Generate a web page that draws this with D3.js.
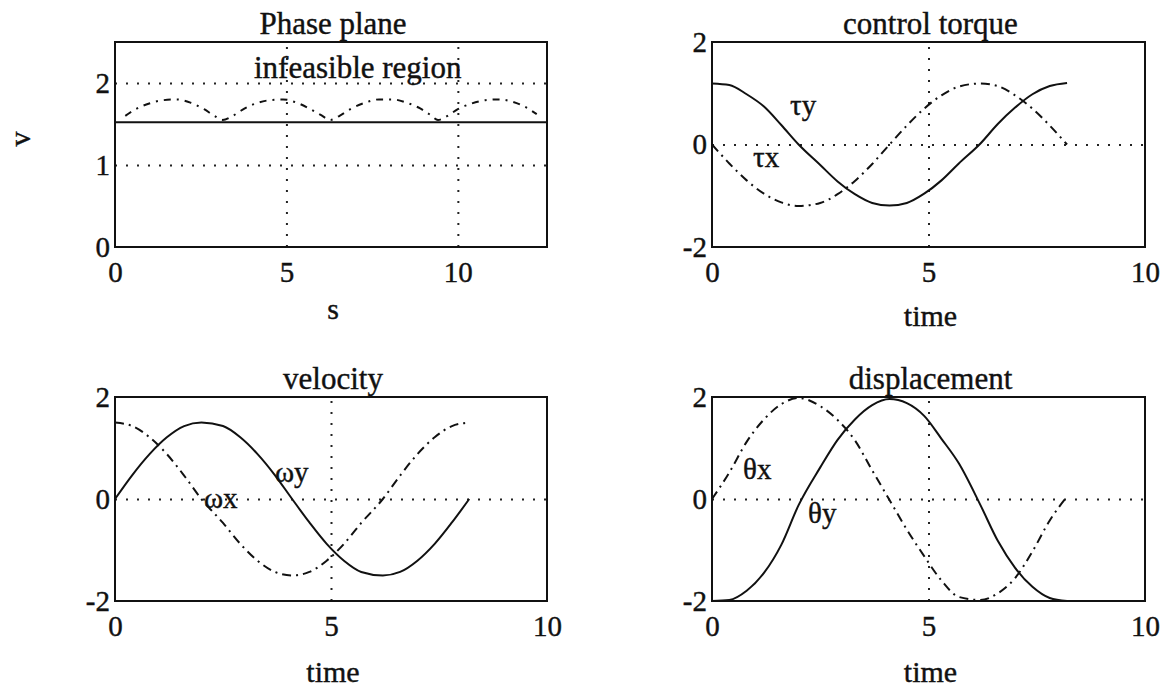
<!DOCTYPE html>
<html>
<head>
<meta charset="utf-8">
<script src="https://cdn.jsdelivr.net/npm/d3@7"></script>
<style>
body { margin: 0; background: #fff; }
svg text { font-family: "Liberation Serif", "Times New Roman", serif; fill: #111; stroke: #111; stroke-width: 0.4px; }
</style>
</head>
<body>
<script>
// phase plane: dashed limit curve and the solid trajectory level
var phaseS = [0.3, 0.6, 1.0, 1.4, 1.8, 2.2, 2.6, 2.9, 3.14, 3.4, 3.7, 4.1, 4.5, 4.9, 5.3, 5.7, 6.0, 6.28, 6.55, 6.9, 7.3, 7.7, 8.1, 8.5, 8.9, 9.2, 9.42, 9.7, 10.0, 10.4, 10.8, 11.2, 11.6, 12.0, 12.3];
var phaseV = [1.60, 1.68, 1.75, 1.79, 1.80, 1.76, 1.68, 1.60, 1.55, 1.59, 1.67, 1.75, 1.79, 1.80, 1.76, 1.68, 1.61, 1.55, 1.60, 1.69, 1.76, 1.80, 1.80, 1.76, 1.69, 1.61, 1.55, 1.60, 1.68, 1.75, 1.79, 1.80, 1.77, 1.70, 1.62];
var phaseLevel = [1.52, 1.52];
var phaseLevelS = [0, 12.6];

// time histories
var time   = [0, 0.4, 0.8, 1.2, 1.6, 2.0, 2.5, 2.9, 3.3, 3.7, 4.1, 4.5, 4.9, 5.3, 5.7, 6.2, 6.6, 7.0, 7.4, 7.8, 8.2];
var tauY   = [1.19, 1.16, 0.98, 0.74, 0.38, 0.0, -0.40, -0.72, -0.97, -1.14, -1.19, -1.14, -0.96, -0.70, -0.37, 0.02, 0.40, 0.72, 0.98, 1.14, 1.20];
var tauX   = [0.0, -0.37, -0.70, -0.96, -1.13, -1.20, -1.14, -0.97, -0.71, -0.38, 0.0, 0.37, 0.70, 0.96, 1.13, 1.19, 1.14, 0.96, 0.70, 0.37, 0.0];
var omegaY = [0.0, 0.47, 0.88, 1.21, 1.43, 1.50, 1.43, 1.21, 0.88, 0.47, 0.0, -0.46, -0.88, -1.21, -1.43, -1.50, -1.43, -1.21, -0.88, -0.46, 0.0];
var omegaX = [1.50, 1.43, 1.21, 0.88, 0.46, 0.0, -0.47, -0.88, -1.21, -1.43, -1.50, -1.43, -1.21, -0.88, -0.47, 0.0, 0.46, 0.88, 1.21, 1.43, 1.50];
var thetaY = [-2.0, -1.98, -1.80, -1.45, -0.90, -0.12, 0.62, 1.16, 1.56, 1.84, 1.96, 1.88, 1.63, 1.18, 0.70, -0.12, -0.82, -1.35, -1.72, -1.94, -2.0];
var thetaX = [0.0, 0.52, 1.12, 1.56, 1.86, 1.98, 1.82, 1.55, 1.15, 0.56, -0.02, -0.60, -1.12, -1.60, -1.92, -1.98, -1.85, -1.55, -1.03, -0.42, 0.05];

var timeTicks = [0, 5, 10], timeGrid = [5];
var valueTicks = [-2, 0, 2], valueGrid = [0];
var phaseXTicks = [0, 5, 10], phaseXGrid = [5, 10];
var phaseYTicks = [0, 1, 2], phaseYGrid = [1, 2];

var W = 1169, H = 690;
var svg = d3.select('body').append('svg').attr('width', W).attr('height', H);
svg.append('rect').attr('width', W).attr('height', H).attr('fill', '#fff');

var cols = [[115, 547], [712, 1145]],
	rows = [[42, 247], [397, 601]];

function zip(xs, ys) { return xs.map(function(v, i) { return [v, ys[i]]; }); }
// plain integer labels with an ascii hyphen, like the original
function plain(d) { return String(d); }

function panel(p) {
	var left = cols[p.col][0], right = cols[p.col][1],
		top = rows[p.row][0], bottom = rows[p.row][1];
	var x = d3.scaleLinear().domain(p.xDomain).range([left, right]),
		y = d3.scaleLinear().domain(p.yDomain).range([bottom, top]);
	var g = svg.append('g');

	// dotted grid
	var gx = g.append('g').attr('transform', 'translate(0,' + bottom + ')')
		.call(d3.axisBottom(x).tickValues(p.xGrid).tickSize(-(bottom - top)).tickFormat(''));
	var gy = g.append('g').attr('transform', 'translate(' + left + ',0)')
		.call(d3.axisLeft(y).tickValues(p.yGrid).tickSize(-(right - left)).tickFormat(''));
	[gx, gy].forEach(function(a) {
		a.select('.domain').remove();
		a.selectAll('line').attr('stroke', '#222').attr('stroke-width', 2).attr('stroke-dasharray', '2,9');
	});

	// tick labels
	var ax = g.append('g').attr('transform', 'translate(0,' + bottom + ')')
		.call(d3.axisBottom(x).tickValues(p.xTicks).tickFormat(plain).tickSize(0).tickPadding(14));
	var ay = g.append('g').attr('transform', 'translate(' + left + ',0)')
		.call(d3.axisLeft(y).tickValues(p.yTicks).tickFormat(plain).tickSize(0).tickPadding(5));
	[ax, ay].forEach(function(a) {
		a.attr('font-family', null).attr('font-size', null);
		a.select('.domain').remove();
		a.selectAll('text').style('font-size', '29px');
	});

	// curves
	p.lines.forEach(function(l) {
		g.append('path').datum(zip(l.x, l.y))
			.attr('fill', 'none').attr('stroke', '#111').attr('stroke-width', 2)
			.attr('stroke-dasharray', l.dash || null)
			.attr('d', d3.line().x(function(d) { return x(d[0]); }).y(function(d) { return y(d[1]); }).curve(d3.curveMonotoneX));
	});

	// box
	g.append('rect').attr('x', left).attr('y', top).attr('width', right - left).attr('height', bottom - top)
		.attr('fill', 'none').attr('stroke', '#111').attr('stroke-width', 2);

	// labels
	g.append('text').attr('x', (left + right) / 2 + 2).attr('y', top - 8).attr('text-anchor', 'middle')
		.style('font-size', '31px').text(p.title);
	g.append('text').attr('x', (left + right) / 2 + 2).attr('y', bottom + p.xLabelGap).attr('text-anchor', 'middle')
		.style('font-size', '30px').text(p.xLabel);
	(p.notes || []).forEach(function(n) {
		g.append('text').attr('x', n.x).attr('y', n.y).style('font-size', (n.size || 29) + 'px').text(n.text);
	});
	return g;
}

var dashDot = '9,5,2,5';

panel({
	col: 0, row: 0, xDomain: [0, 12.6], yDomain: [0, 2.5],
	xTicks: phaseXTicks, yTicks: phaseYTicks, xGrid: phaseXGrid, yGrid: phaseYGrid,
	title: 'Phase plane', xLabel: 's', xLabelGap: 72,
	lines: [
		{x: phaseS, y: phaseV, dash: '7,6,2,6'},
		{x: phaseLevelS, y: phaseLevel}
	],
	notes: [{x: 254, y: 78, text: 'infeasible region', size: 31}]
});

// y label, rotated as in the original
svg.append('text').attr('transform', 'translate(30,139) rotate(-90)').attr('text-anchor', 'middle')
	.style('font-size', '30px').text('v');

panel({
	col: 1, row: 0, xDomain: [0, 10], yDomain: [-2, 2],
	xTicks: timeTicks, yTicks: valueTicks, xGrid: timeGrid, yGrid: valueGrid,
	title: 'control torque', xLabel: 'time', xLabelGap: 79,
	lines: [
		{x: time, y: tauY},
		{x: time, y: tauX, dash: dashDot}
	],
	notes: [{x: 790, y: 115, text: 'τy'}, {x: 753, y: 167, text: 'τx'}]
});

panel({
	col: 0, row: 1, xDomain: [0, 10], yDomain: [-2, 2],
	xTicks: timeTicks, yTicks: valueTicks, xGrid: timeGrid, yGrid: valueGrid,
	title: 'velocity', xLabel: 'time', xLabelGap: 81,
	lines: [
		{x: time, y: omegaY},
		{x: time, y: omegaX, dash: dashDot}
	],
	notes: [{x: 275, y: 482, text: 'ωy'}, {x: 204, y: 508, text: 'ωx'}]
});

panel({
	col: 1, row: 1, xDomain: [0, 10], yDomain: [-2, 2],
	xTicks: timeTicks, yTicks: valueTicks, xGrid: timeGrid, yGrid: valueGrid,
	title: 'displacement', xLabel: 'time', xLabelGap: 81,
	lines: [
		{x: time, y: thetaY},
		{x: time, y: thetaX, dash: dashDot}
	],
	notes: [{x: 743, y: 479, text: 'θx'}, {x: 808, y: 523, text: 'θy'}]
});
</script>
</body>
</html>
